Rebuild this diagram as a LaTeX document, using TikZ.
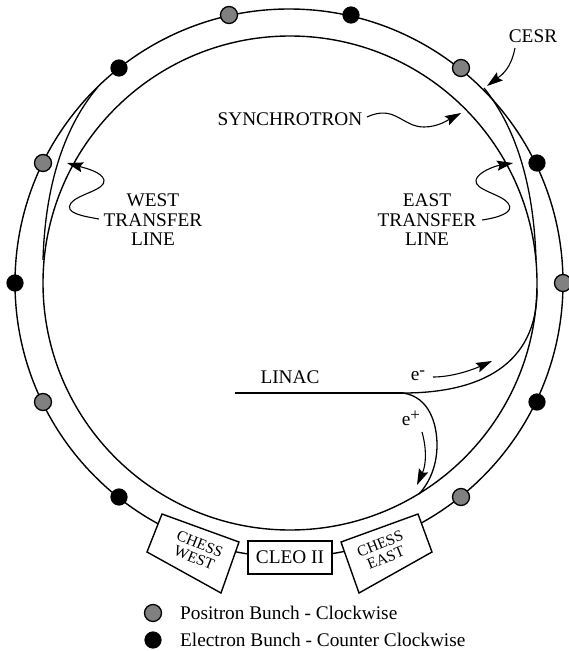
\documentclass[tikz,border=0pt]{standalone}
\usepackage{fontspec}
\setmainfont{Liberation Serif}
\usetikzlibrary{arrows.meta}

\newcommand{\charge}[1]{e\raisebox{5pt}{\fontsize{17}{17}\selectfont #1}}

\begin{document}
\begin{tikzpicture}[
    x=1pt, y=-1pt,
    ring/.style={line width=1.4pt, black},
    beam/.style={line width=1.3pt, black},
    posdot/.style={circle, draw=black, line width=1.3pt, fill=black!50, minimum size=17pt, inner sep=0pt},
    eledot/.style={circle, draw=black, line width=1.2pt, fill=black, minimum size=16pt, inner sep=0pt},
    hall/.style={draw=black, line width=1.4pt, fill=white},
    lbl/.style={font=\fontsize{19.3}{19.5}\selectfont, align=center, inner sep=1pt},
    hlbl/.style={font=\fontsize{15.5}{15}\selectfont, align=center, inner sep=0pt},
    pointer/.style={-{Stealth[length=16pt, width=10pt, inset=2.5pt]}, line width=1.1pt, black},
]
\useasboundingbox (0, 0) rectangle (569, 651);
\draw[ring] (289, 283) circle[radius=274pt];
\draw[ring] (290, 283) circle[radius=247pt];

\foreach \name/\xc/\yc in {p1/229/15, p2/461/68, p3/563/283, p4/461/497, p5/43/402, p6/43/163}
    \node[posdot] (\name) at (\xc, \yc) {};
\foreach \name/\xc/\yc in {e1/351/15, e2/537/163, e3/537/402, e4/119/497, e5/15/283, e6/119/68}
    \node[eledot] (\name) at (\xc, \yc) {};

\draw[beam] (43, 260) .. controls (45, 190) and (62, 130) .. (97, 88);
\draw[beam] (536, 260) .. controls (534, 190) and (518, 130) .. (484, 88);
\draw[line width=1.6pt] (235, 393) -- (403, 393);
\draw[beam] (403, 393) .. controls (480, 393) and (537, 365) .. (537, 290);
\draw[beam] (403, 393) .. controls (430, 397) and (437, 425) .. (437, 445)
    .. controls (437, 465) and (430, 482) .. (419, 494);

\coordinate (cw1) at (162, 514);
\coordinate (cw2) at (239, 542);
\coordinate (cw3) at (221, 593);
\coordinate (cw4) at (147, 552);
\coordinate (ce1) at (341, 542);
\coordinate (ce2) at (418, 514);
\coordinate (ce3) at (432, 552);
\coordinate (ce4) at (359, 593);
\draw[hall] (cw1) -- (cw2) -- (cw3) -- (cw4) -- cycle;
\draw[hall] (ce1) -- (ce2) -- (ce3) -- (ce4) -- cycle;
\node[hlbl, rotate=-22] (chesswest) at (197, 551) {CHESS\\WEST};
\node[hlbl, rotate=22] (chesseast) at (383, 551) {CHESS\\EAST};
\node[hall, lbl, minimum width=84pt, minimum height=33pt, inner sep=0pt] (cleo) at (290, 557.5) {CLEO II};

\node[lbl] (cesr) at (533, 36) {CESR};
\node[lbl] (synchrotron) at (290, 119) {SYNCHROTRON};
\node[lbl] (westline) at (153, 220) {WEST\\TRANSFER\\LINE};
\node[lbl] (eastline) at (427, 220) {EAST\\TRANSFER\\LINE};
\node[lbl] (linac) at (290, 377) {LINAC};
\node[lbl] (eminus) at (418, 376) {\charge{-}};
\node[lbl] (eplus) at (411, 418) {\charge{+}};

\coordinate (cesrtail) at (515, 48);
\coordinate (cesrtip) at (487, 86);
\coordinate (synctail) at (367, 117);
\coordinate (synctip) at (461, 113);
\coordinate (westtail) at (99, 219);
\coordinate (westtip) at (67, 163);
\coordinate (easttail) at (482, 220);
\coordinate (easttip) at (513, 163);
\coordinate (eminustail) at (433, 377);
\coordinate (eminustip) at (492, 361);
\coordinate (eplustail) at (422, 432);
\coordinate (eplustip) at (417, 485);
\draw[pointer] (cesrtail) .. controls (511, 68) and (503, 74) .. (cesrtip);
\draw[pointer] (synctail) .. controls (395, 104) and (402, 127) .. (424, 127)
    .. controls (438, 127) and (448, 120) .. (synctip);
\draw[pointer] (westtail) .. controls (82, 216) and (64, 213) .. (71, 203)
    .. controls (78, 194) and (106, 190) .. (104, 180) .. controls (102, 172) and (85, 168) .. (westtip);
\draw[pointer] (easttail) .. controls (496, 218) and (516, 213) .. (508, 203)
    .. controls (501, 194) and (474, 190) .. (476, 180) .. controls (478, 172) and (495, 166) .. (easttip);
\draw[pointer] (eminustail) .. controls (452, 377) and (472, 370) .. (eminustip);
\draw[pointer] (eplustail) .. controls (427, 450) and (426, 465) .. (eplustip);

\node[posdot] (posmark) at (153, 613) {};
\node[eledot] (elemark) at (153, 640) {};
\node[lbl, anchor=west, inner sep=0pt] (poslegend) at (180, 613) {Positron Bunch - Clockwise};
\node[lbl, anchor=west, inner sep=0pt] (elelegend) at (180, 640) {Electron Bunch - Counter Clockwise};
\end{tikzpicture}
\end{document}
